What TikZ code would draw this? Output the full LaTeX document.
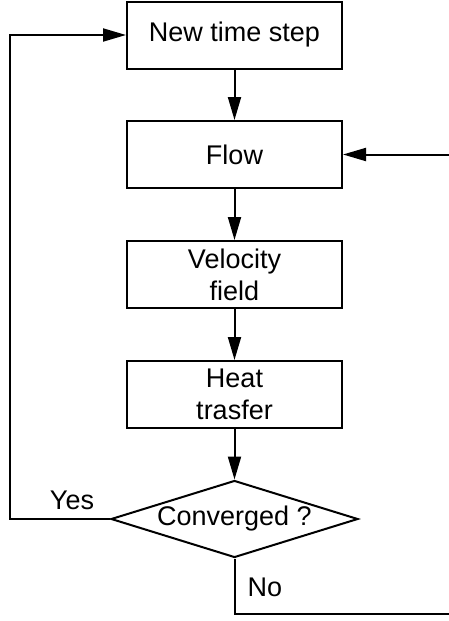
\documentclass[tikz,border=0pt]{standalone}
\usepackage{fontspec}
\setmainfont{Liberation Sans}
\usetikzlibrary{arrows.meta,shapes.geometric}
\begin{document}
\begin{tikzpicture}[x=1pt,y=-1pt,
  every node/.style={font=\fontsize{27}{32}\selectfont},
  box/.style={draw,line width=2pt,minimum width=215pt,minimum height=67pt,inner sep=0pt,align=center},
  decide/.style={draw,diamond,aspect=3.2,line width=2pt,minimum width=247pt,minimum height=77pt,inner sep=0pt},
  conn/.style={line width=2pt},
  arr/.style={conn,-{Triangle[length=23pt,width=13pt]}},
  lbl/.style={inner sep=0pt}]
\useasboundingbox (0,0) rectangle (449,621);
\node[box] (b1) at (234.5,35) {New time step};
\node[box] (b2) at (234.5,154.5) {Flow};
\node[box] (b3) at (234.5,274.5) {Velocity\\field};
\node[box] (b4) at (234.5,394.5) {Heat\\trasfer};
\node[decide] (d) at (234.5,519) {Converged ?};
\coordinate (yl) at (10,519);
\coordinate (fin) at (449,154.5);
\coordinate (nc) at (449,614);
\draw[arr] (b1) -- (b2);
\draw[arr] (b2) -- (b3);
\draw[arr] (b3) -- (b4);
\draw[arr] (b4) -- (d);
\draw[arr] (fin) -- (b2.east);
\draw[arr] (d.west) -- (yl) |- (b1.west);
\draw[conn] (d.south) |- (nc);
\node[lbl] (yes) at (72,500) {Yes};
\node[lbl] (no) at (265,587) {No};
\end{tikzpicture}
\end{document}
